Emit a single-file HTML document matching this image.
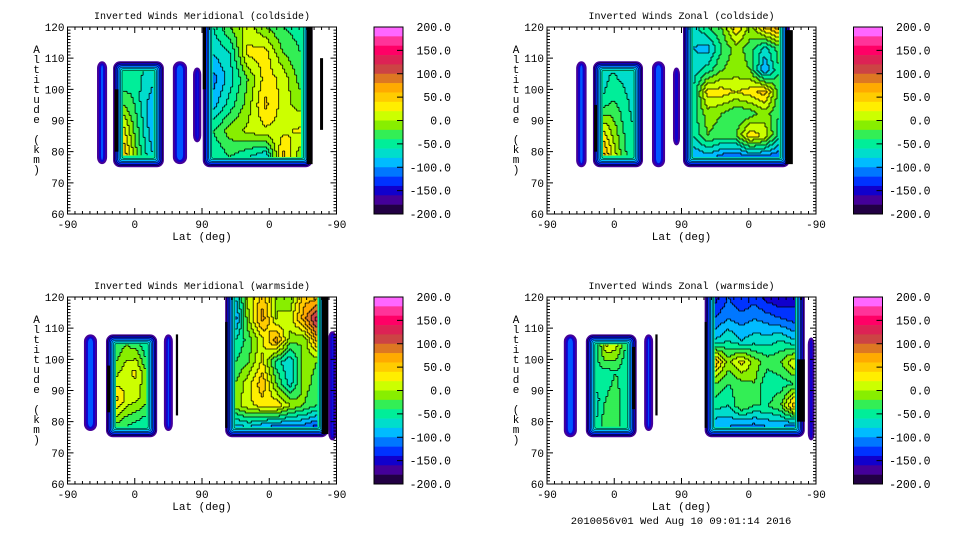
<!DOCTYPE html>
<html><head><meta charset="utf-8">
<style>
html,body{margin:0;padding:0;background:#fff;}
svg{display:block;}
text{font-family:"Liberation Mono","DejaVu Sans Mono",monospace;fill:#000;}
</style></head>
<body>
<svg id="fig" width="960" height="540" viewBox="0 0 960 540" xmlns="http://www.w3.org/2000/svg">
<text x="681" y="524" font-size="10.5" text-anchor="middle">2010056v01 Wed Aug 10 09:01:14 2016</text>
</svg>
<script>
// ---- colour scale ----
const bandColors=['#ff66ff','#ff3399','#ff0066','#dd2255','#cc4444','#dd7722','#ffaa00','#ffcc00','#ffee00','#ccff00','#88ee00','#33ee55','#00ee99','#00ddcc','#00bbff','#0077ff','#0033ff','#1100cc','#440099','#220044'];
const cbTicks=['200.0','150.0','100.0','50.0','0.0','-50.0','-100.0','-150.0','-200.0'];
const xTickLabels=['-90','0','90','0','-90'];
const yTickLabels=['60','70','80','90','100','110','120'];

// ---- data: grids of wind values (rows top->bottom altitude, cols left->right) ----
const tlRectVals=[[-60,-50,-60,-70],[-30,-40,-70,-90],[25,-20,-60,-100],[60,0,-50,-80]];
const tlBigVals=[[-60,-20,10,-20,-40,-50],[-80,-60,25,30,-20,-40],[-110,-70,-20,30,15,-30],[-90,-50,-10,45,10,-10],[-40,-10,5,15,15,25],[-60,-40,-60,-80,50,-20]];
const trRectVals=[[-70,-60,-70,-80],[-60,-40,-50,-70],[15,-10,-40,-60],[70,15,-30,-60]];
const trBigVals=[[-70,-40,-20,40,-10,45,70],[-80,-90,-40,-10,-30,-70,-30],[-70,-50,-20,-10,-20,-100,-40],[-60,30,30,20,30,50,-30],[-50,-10,-20,-40,-30,-10,-40],[-60,-20,-30,-20,35,15,-50],[-100,-90,-110,-120,-110,-110,-120]];
const blRectVals=[[-40,-20,-30,-60],[-10,15,25,-20],[50,15,5,-10],[-30,-40,-50,-60]];
const blBigVals=[[-80,10,50,0,-20,50,50],[-110,0,70,0,10,70,130],[-60,-30,15,70,-10,-20,70],[-40,-20,25,-50,-80,-10,-20],[-20,15,55,-20,-70,-10,-30],[-10,15,30,35,0,-20,-40],[-90,-80,-100,-110,-110,-110,-130]];
const brRectVals=[[-60,25,10,-40],[-40,-50,-40,-60],[-70,-40,-30,-50],[-60,-20,-30,-60]];
const brBigVals=[[-150,-120,-140,-130,-150,-160,-150],[-120,-100,-110,-100,-110,-120,-130],[-80,-60,-80,-70,-70,-60,-80],[60,-10,30,-10,-30,-20,20],[-20,-40,-30,-20,-60,-50,-40],[-50,-60,-20,-40,-40,-20,60],[-100,-100,-110,-110,-100,-100,-120]];

// block extents in (lat-axis units 0..360, altitude km)
const panels=[
 {id:'tl',ox:67.5,oy:27,title:'Inverted Winds Meridional (coldside)',
  blocks:[{u0:39.5,u1:53,a0:76,a1:109},{u0:61,u1:129,a0:75,a1:109,vals:tlRectVals},{u0:141,u1:160,a0:76,a1:109},{u0:168,u1:179,a0:83,a1:107},{u0:181,u1:328,a0:75,a1:120,vals:tlBigVals}],
  blacks:[[63,68,80,100],[181,185,100,120],[320,328,76,120],[338,342,87,110]]},
 {id:'tr',ox:547,oy:27,title:'Inverted Winds Zonal (coldside)',
  blocks:[{u0:39,u1:53,a0:75,a1:109},{u0:61.5,u1:128.5,a0:75,a1:109,vals:trRectVals},{u0:140.5,u1:158,a0:75,a1:109},{u0:168.6,u1:178,a0:82,a1:107},{u0:182,u1:325,a0:75,a1:120,vals:trBigVals}],
  blacks:[[63,67,80,95],[319,329,76,119]]},
 {id:'bl',ox:67.5,oy:297,title:'Inverted Winds Meridional (warmside)',
  blocks:[{u0:22,u1:39.5,a0:77,a1:108},{u0:51.5,u1:120,a0:75,a1:108,vals:blRectVals},{u0:129,u1:141,a0:77,a1:108},{u0:211,u1:349,a0:75,a1:120,vals:blBigVals},{u0:349,u1:360,a0:74,a1:109}],
  blacks:[[53,57,83,98],[145,148,82,108],[211,214,78,112],[340,349,76,120]]},
 {id:'br',ox:547,oy:297,title:'Inverted Winds Zonal (warmside)',
  blocks:[{u0:22.5,u1:40,a0:75,a1:108},{u0:52,u1:120,a0:75,a1:108,vals:brRectVals},{u0:130,u1:142,a0:77,a1:108},{u0:211,u1:345,a0:75,a1:120,vals:brBigVals},{u0:349,u1:358,a0:74,a1:107}],
  blacks:[[114,118,84,104],[145,148,82,108],[211,214,78,112],[335,345,80,100]]}
];

const NS='http://www.w3.org/2000/svg';
const svg=document.getElementById('fig');
const PW=269,PH=187;
function mk(tag,attrs,parent){const e=document.createElementNS(NS,tag);for(const k in attrs)e.setAttribute(k,attrs[k]);parent.appendChild(e);return e;}
function bandOf(v){let i=Math.floor((200-v)/20);if(i<0)i=0;if(i>19)i=19;return i;}

panels.forEach(p=>{
  const X=u=>p.ox+u*PW/360;
  const Y=a=>p.oy+(120-a)*PH/60;
  const g=mk('g',{},svg);
  
  
  const cp=mk('clipPath',{id:'clip-'+p.id},g);
  mk('rect',{x:p.ox,y:p.oy,width:PW,height:PH},cp);
  const plot=mk('g',{'clip-path':'url(#clip-'+p.id+')'},g);
  
  
  p.blocks.forEach((b,bi)=>{
    const x0=X(b.u0),x1=X(b.u1);
    const yTop=b.a1>=120?Y(b.a1)-14:Y(b.a1), yBot=Y(b.a0);
    const bg=mk('g',{},plot);
    
    
    const rings=b.vals?['#440099','#1100cc','#0033ff','#0077ff','#00bbff','#00ddcc','#00ee99']:['#440099','#1100cc','#0055ff'];
    rings.forEach((c,i)=>{
      const ins=i*(b.vals?1.5:2);
      const w=x1-x0-2*ins,h=yBot-yTop-2*ins;
      if(w>0&&h>0){const r=mk('rect',{x:x0+ins,y:yTop+ins,width:w,height:h,rx:Math.max(1.5,7-i),fill:c,stroke:(i>0&&b.vals)?'#000':'none','stroke-width':0.5},bg);
        
        }
    });
    if(b.vals){
      const ins=10;
      const gx0=x0+ins,gx1=x1-ins,gy0=(b.a1>=120?Y(120):yTop+ins),gy1=yBot-ins;
      const rows=b.vals.length,cols=b.vals[0].length;
      const st=2;
      const nx=Math.floor((gx1-gx0)/st),ny=Math.floor((gy1-gy0)/st);
      const grid=[];
      for(let j=0;j<ny;j++){grid.push([]);
        for(let i=0;i<nx;i++){
          const fx=(i+0.5)/nx*(cols-1), fy=(j+0.5)/ny*(rows-1);
          const i0=Math.max(0,Math.min(cols-2,Math.floor(fx))),j0=Math.max(0,Math.min(rows-2,Math.floor(fy)));
          const tx=fx-i0,ty=fy-j0;
          const v=(b.vals[j0][i0]*(1-tx)+b.vals[j0][i0+1]*tx)*(1-ty)+(b.vals[j0+1][i0]*(1-tx)+b.vals[j0+1][i0+1]*tx)*ty;
          grid[j].push(bandOf(v));
        }}
      const cell=mk('g',{},bg);
      
      
      for(let j=0;j<ny;j++){
        let i=0;
        while(i<nx){let k=i;while(k+1<nx&&grid[j][k+1]===grid[j][i])k++;
          mk('rect',{x:(gx0+i*st).toFixed(1),y:(gy0+j*st).toFixed(1),width:((k-i+1)*st+0.3).toFixed(1),height:st+0.3,fill:bandColors[grid[j][i]]},cell);
          i=k+1;}
      }
      let d='';
      for(let j=0;j<ny;j++)for(let i=0;i<nx;i++){
        const xx=gx0+i*st,yy=gy0+j*st;
        if(i+1<nx&&grid[j][i+1]!==grid[j][i])d+=`M${(xx+st).toFixed(1)},${yy.toFixed(1)}v${st}`;
        if(j+1<ny&&grid[j+1][i]!==grid[j][i])d+=`M${xx.toFixed(1)},${(yy+st).toFixed(1)}h${st}`;
      }
      const cl=mk('path',{d:d,stroke:'#000','stroke-width':0.8,fill:'none'},bg);
      
      
    }
  });
  p.blacks.forEach(bk=>{
    const r=mk('rect',{x:X(bk[0]),y:Y(bk[3]),width:X(bk[1])-X(bk[0]),height:Y(bk[2])-Y(bk[3]),fill:'#000'},plot);
    
    
  });
  const fr=mk('rect',{x:p.ox,y:p.oy,width:PW,height:PH,fill:'none',stroke:'#000','stroke-width':1},g);
  
  
  let d='';
  for(let u=0;u<=360;u+=10){const len=(u%90===0)?6:3;const xx=X(u);d+=`M${xx},${p.oy+PH}v${-len}M${xx},${p.oy}v${len}`;}
  for(let a=60;a<=120;a+=1){const len=(a%10===0)?6:3;const yy=Y(a);d+=`M${p.ox},${yy}h${len}M${p.ox+PW},${yy}h${-len}`;}
  const tk=mk('path',{d:d,stroke:'#000','stroke-width':1,fill:'none'},g);
  
  
  xTickLabels.forEach((t,i)=>{const e=mk('text',{x:X(i*90),y:p.oy+PH+14,'font-size':11,'text-anchor':'middle'},g);e.textContent=t;
    });
  yTickLabels.forEach((t,i)=>{const e=mk('text',{x:p.ox-3,y:Y(60+i*10)+4,'font-size':11,'text-anchor':'end'},g);e.textContent=t;
    });
  const tt=mk('text',{x:p.ox+PW/2,y:p.oy-8,'font-size':10,'text-anchor':'middle'},g);tt.textContent=p.title;
  
  const xl=mk('text',{x:p.ox+PW/2,y:p.oy+PH+26,'font-size':11,'text-anchor':'middle'},g);xl.textContent='Lat (deg)';
  
  const yt=mk('text',{'font-size':11,'text-anchor':'middle'},g);
  
  'Altitude (km)'.split('').forEach((ch,i)=>{const s=mk('tspan',{x:p.ox-31,y:p.oy+26+i*10},yt);s.textContent=ch===' '?'\u00a0':ch;});
  const cbx=p.ox+306.5,cbw=29;
  const cb=mk('g',{},g);
  
  bandColors.forEach((c,i)=>{const r=mk('rect',{x:cbx,y:p.oy+i*PH/20,width:cbw,height:PH/20+0.3,fill:c},cb);
    });
  mk('rect',{x:cbx,y:p.oy,width:cbw,height:PH,fill:'none',stroke:'#000'},cb);
  cbTicks.forEach((t,i)=>{const yy=p.oy+i*PH/8;
    if(i>0&&i<8)mk('path',{d:`M${cbx+cbw},${yy}h-6`,stroke:'#000'},cb);
    const e=mk('text',{x:cbx+cbw+48,y:yy+4,'font-size':11.5,'text-anchor':'end'},cb);e.textContent=t;
    });
});
</script>
</body></html>
